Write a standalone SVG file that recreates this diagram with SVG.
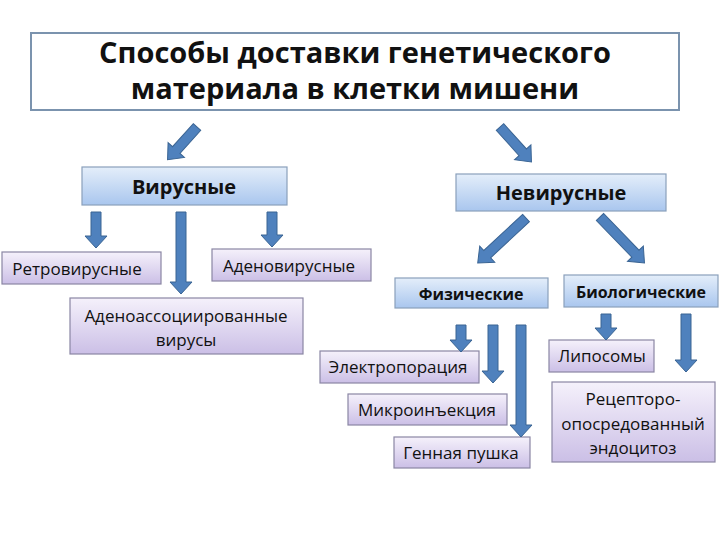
<svg xmlns="http://www.w3.org/2000/svg" width="720" height="540" viewBox="0 0 720 540">
<defs>
<linearGradient id="gBlue" x1="0" y1="0" x2="0" y2="1">
<stop offset="0" stop-color="#e4eefa"/>
<stop offset="1" stop-color="#a9c6ee"/>
</linearGradient>
<linearGradient id="gLav" x1="0" y1="0" x2="0" y2="1">
<stop offset="0" stop-color="#f5f1fb"/>
<stop offset="1" stop-color="#cbbfe6"/>
</linearGradient>
<style>
.title{fill:#fff;stroke:#7b93ae;stroke-width:2}
.blue{fill:url(#gBlue);stroke:#8aa0bb;stroke-width:1.2}
.lav{fill:url(#gLav);stroke:#8a86a4;stroke-width:1.2}
text{font-family:"Open Sans","Noto Sans","Liberation Sans",sans-serif;fill:#111}
.tt{font-size:29px;font-weight:bold;text-anchor:middle}
.hb{font-size:20px;font-weight:bold;text-anchor:middle}
.sb{font-size:16px;font-weight:bold;text-anchor:middle}
.n{font-size:17px;text-anchor:middle}
.arr{fill:#4f81bd;stroke:#3a6493;stroke-width:1}
</style>
</defs>
<rect width="720" height="540" fill="#fff"/>

<g id="title">
<rect class="title" x="31" y="33" width="648" height="77"/>
<text class="tt" x="355" y="63">Способы доставки генетического</text>
<text class="tt" x="355" y="99">материала в клетки мишени</text>
</g>

<g id="viral">
<rect class="blue" x="82" y="167" width="205" height="38"/>
<text class="hb" x="184" y="194">Вирусные</text>
</g>
<g id="nonviral">
<rect class="blue" x="456" y="174" width="210" height="37"/>
<text class="hb" x="561" y="200">Невирусные</text>
</g>

<g id="retro">
<rect class="lav" x="2" y="252" width="159" height="32"/>
<text class="n" x="77" y="275">Ретровирусные</text>
</g>
<g id="adeno">
<rect class="lav" x="212" y="249" width="159" height="32"/>
<text class="n" x="289" y="272">Аденовирусные</text>
</g>
<g id="aav">
<rect class="lav" x="70" y="298" width="233" height="56"/>
<text class="n" x="186" y="322">Аденоассоциированные</text>
<text class="n" x="186" y="346">вирусы</text>
</g>

<g id="physical">
<rect class="blue" x="395" y="278" width="153" height="30"/>
<text class="sb" x="471" y="300">Физические</text>
</g>
<g id="biological">
<rect class="blue" x="564" y="275" width="154" height="32"/>
<text class="sb" x="641" y="298">Биологические</text>
</g>

<g id="electro">
<rect class="lav" x="320" y="351" width="159" height="32"/>
<text class="n" x="398" y="373">Электропорация</text>
</g>
<g id="micro">
<rect class="lav" x="348" y="394" width="159" height="31"/>
<text class="n" x="427" y="416">Микроинъекция</text>
</g>
<g id="gun">
<rect class="lav" x="394" y="437" width="136" height="31"/>
<text class="n" x="461" y="459">Генная пушка</text>
</g>

<g id="lipo">
<rect class="lav" x="549" y="340" width="105" height="32"/>
<text class="n" x="602" y="362">Липосомы</text>
</g>
<g id="receptor">
<rect class="lav" x="552" y="382" width="163" height="80"/>
<text class="n" x="633" y="405">Рецепторо-</text>
<text class="n" x="633" y="430">опосредованный</text>
<text class="n" x="633" y="454">эндоцитоз</text>
</g>

<g id="connectors">
<path class="arr" transform="translate(197,127) rotate(42)" d="M-5 0H5V31H11L0 44L-11 31H-5Z"/>
<path class="arr" transform="translate(500,127) rotate(-42)" d="M-5 0H5V34H11L0 47L-11 34H-5Z"/>
<path class="arr" d="M91 212H101V236H107L96 248L85 236H91Z"/>
<path class="arr" d="M176 212H186V282H192L181 294L170 282H176Z"/>
<path class="arr" d="M267 212H277V235H283L272 247L261 235H267Z"/>
<path class="arr" transform="translate(526,218) rotate(47)" d="M-5 0H5V53H11L0 66L-11 53H-5Z"/>
<path class="arr" transform="translate(600,217) rotate(-44)" d="M-5 0H5V51H11L0 64L-11 51H-5Z"/>
<path class="arr" d="M456 325H466V340H472L461 352L450 340H456Z"/>
<path class="arr" d="M488 325H498V371H504L493 383L482 371H488Z"/>
<path class="arr" d="M516 325H526V425H532L521 437L510 425H516Z"/>
<path class="arr" d="M601 314H611V328H617L606 340L595 328H601Z"/>
<path class="arr" d="M681 314H691V360H697L686 372L675 360H681Z"/>
</g>
</svg>
